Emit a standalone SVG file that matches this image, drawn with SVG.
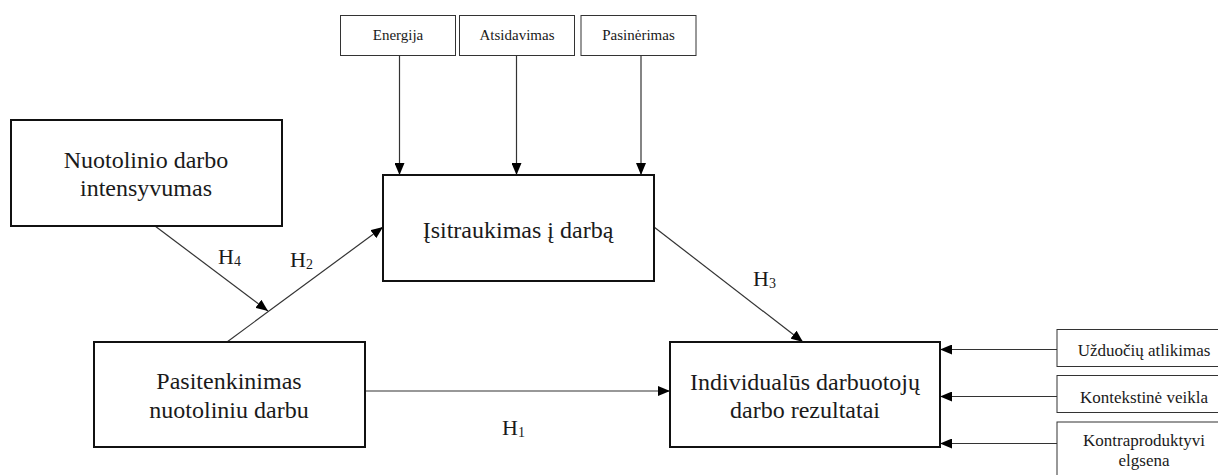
<svg xmlns="http://www.w3.org/2000/svg" width="1218" height="475" viewBox="0 0 1218 475" font-family="'Liberation Serif', Tinos, 'Times New Roman', 'DejaVu Serif', serif">
<defs>
<marker id="arr" markerUnits="userSpaceOnUse" markerWidth="12" markerHeight="10" refX="12" refY="5" orient="auto">
<path d="M0,0 L12,5 L0,10 z" fill="#000"/>
</marker>
<style>
text{font-family:'Liberation Serif', Tinos, 'Times New Roman', 'DejaVu Serif', serif;fill:#1a1a1a}
.big{stroke:#111;stroke-width:2;fill:#fff}
.small{stroke:#333;stroke-width:1;fill:#fff}
.lbl{font-size:24px;text-anchor:middle}
.sl{font-size:15px;text-anchor:middle}
.rl{font-size:17px;text-anchor:middle}
.h{font-size:22px}
.sub{font-size:14px}
.c{stroke:#333;stroke-width:1.2;fill:none;marker-end:url(#arr)}
</style>
</defs>
<rect width="1218" height="475" fill="#fff"/>
<g id="connectors">
<line class="c" x1="399.5" y1="55" x2="399.5" y2="175"/>
<line class="c" x1="516.5" y1="55" x2="516.5" y2="175"/>
<line class="c" x1="641" y1="55" x2="641" y2="175"/>
<line class="c" x1="155" y1="226" x2="268" y2="311"/>
<line class="c" x1="227" y1="342" x2="383" y2="227"/>
<line class="c" x1="654" y1="227" x2="803" y2="342"/>
<line class="c" x1="365" y1="391" x2="670" y2="391"/>
<line class="c" x1="1057" y1="349.5" x2="940" y2="349.5"/>
<line class="c" x1="1057" y1="396.5" x2="940" y2="396.5"/>
<line class="c" x1="1057" y1="443.5" x2="940" y2="443.5"/>
</g>
<g id="labels">
<text class="h" x="218" y="264">H<tspan class="sub" dy="2">4</tspan></text>
<text class="h" x="290" y="267">H<tspan class="sub" dy="2">2</tspan></text>
<text class="h" x="753" y="286">H<tspan class="sub" dy="2">3</tspan></text>
<text class="h" x="502" y="435">H<tspan class="sub" dy="2">1</tspan></text>
</g>
<g id="energija">
<rect class="small" x="340.5" y="15.5" width="115" height="40"/>
<text class="sl" x="398" y="40">Energija</text>
</g>
<g id="atsidavimas">
<rect class="small" x="459.5" y="15.5" width="115" height="40"/>
<text class="sl" x="517" y="40">Atsidavimas</text>
</g>
<g id="pasinerimas">
<rect class="small" x="581" y="15.5" width="115" height="40"/>
<text class="sl" x="638.5" y="40">Pasinėrimas</text>
</g>
<g id="nuotolinio">
<rect class="big" x="11" y="120" width="271" height="106"/>
<text class="lbl" x="146" y="168">Nuotolinio darbo</text>
<text class="lbl" x="146" y="196">intensyvumas</text>
</g>
<g id="isitraukimas">
<rect class="big" x="383" y="175" width="271" height="106"/>
<text class="lbl" x="518" y="238">Įsitraukimas į darbą</text>
</g>
<g id="pasitenkinimas">
<rect class="big" x="94" y="342" width="271" height="105"/>
<text class="lbl" x="229" y="389">Pasitenkinimas</text>
<text class="lbl" x="229" y="418">nuotoliniu darbu</text>
</g>
<g id="individualus">
<rect class="big" x="670" y="342" width="270" height="105"/>
<text class="lbl" x="805" y="390">Individualūs darbuotojų</text>
<text class="lbl" x="805" y="418">darbo rezultatai</text>
</g>
<g id="uzduociu">
<rect class="small" x="1057" y="329.5" width="170" height="37"/>
<text class="rl" x="1144" y="356">Užduočių atlikimas</text>
</g>
<g id="kontekstine">
<rect class="small" x="1057" y="375.5" width="170" height="37"/>
<text class="rl" x="1144" y="403">Kontekstinė veikla</text>
</g>
<g id="kontraproduktyvi">
<rect class="small" x="1057" y="422" width="170" height="70"/>
<text class="rl" x="1144" y="446">Kontraproduktyvi</text>
<text class="rl" x="1144" y="466">elgsena</text>
</g>
</svg>
